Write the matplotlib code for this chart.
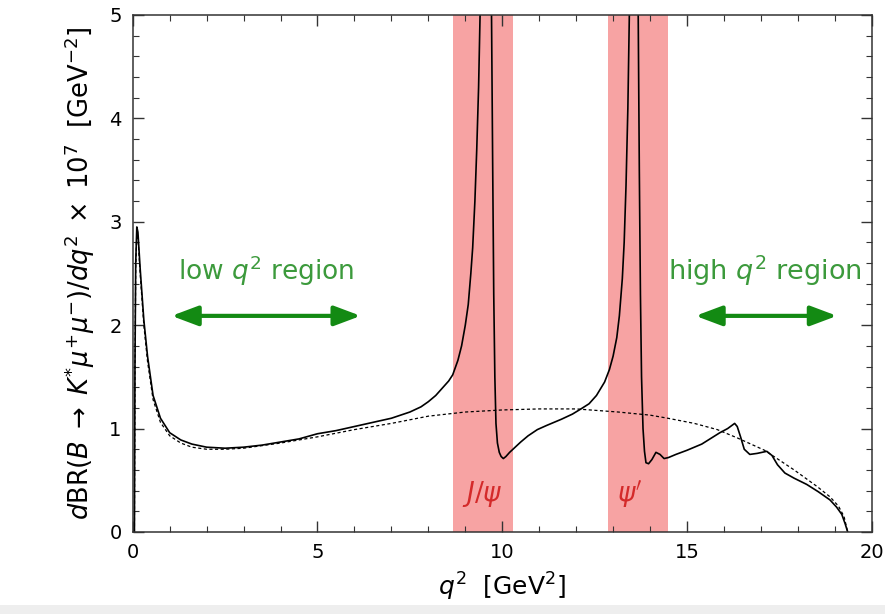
import matplotlib
matplotlib.use('Agg')
import matplotlib.pyplot as plt
import matplotlib.patches as mpatches
from matplotlib.ticker import MultipleLocator

plt.rcParams['font.family'] = 'DejaVu Sans'
plt.rcParams['mathtext.fontset'] = 'dejavusans'

# full SM prediction incl. charmonium resonances (q^2 in GeV^2, dBR/dq^2 x 1e7)
q2_full = [0.045, 0.06, 0.08, 0.11, 0.14, 0.2, 0.3, 0.4, 0.55, 0.75, 1.0, 1.3,
           1.6, 2.0, 2.5, 3.0, 3.5, 4.0, 4.5, 5.0, 5.5, 6.0, 6.5, 7.0, 7.5,
           7.8, 8.0, 8.2, 8.4, 8.55, 8.66, 8.8, 8.9, 9.0, 9.08, 9.15, 9.2,
           9.26, 9.31, 9.36, 9.40, 9.47, 9.66, 9.71, 9.74, 9.77, 9.80, 9.83,
           9.87, 9.92, 9.97, 10.03, 10.1, 10.2, 10.35, 10.5, 10.7, 10.95,
           11.2, 11.6, 11.9, 12.13, 12.35, 12.55, 12.77, 12.9, 13.0, 13.1,
           13.17, 13.25, 13.3, 13.35, 13.40, 13.44, 13.50, 13.64, 13.68,
           13.71, 13.74, 13.77, 13.81, 13.85, 13.89, 13.96, 14.05, 14.16,
           14.27, 14.38, 14.5, 14.7, 15.0, 15.4, 15.89, 16.1, 16.29, 16.36,
           16.45, 16.55, 16.7, 16.9, 17.16, 17.3, 17.45, 17.65, 17.9, 18.24,
           18.55, 18.87, 19.05, 19.19, 19.28, 19.35]
br_full = [0.0, 1.6, 2.6, 2.95, 2.9, 2.55, 2.05, 1.7, 1.32, 1.1, 0.96, 0.89,
           0.85, 0.82, 0.81, 0.82, 0.84, 0.87, 0.9, 0.95, 0.98, 1.02, 1.06,
           1.10, 1.16, 1.21, 1.26, 1.32, 1.40, 1.46, 1.52, 1.66, 1.80, 2.0,
           2.2, 2.5, 2.75, 3.2, 3.7, 4.3, 5.0, 8.0, 8.0, 5.0, 3.6, 2.3, 1.5,
           1.05, 0.86, 0.77, 0.73, 0.71, 0.73, 0.77, 0.82, 0.87, 0.93, 0.99,
           1.03, 1.09, 1.14, 1.19, 1.24, 1.32, 1.45, 1.57, 1.70, 1.88, 2.09,
           2.45, 2.8, 3.35, 4.1, 5.0, 8.0, 8.0, 5.0, 3.5, 2.3, 1.5, 1.0, 0.78,
           0.67, 0.66, 0.70, 0.77, 0.75, 0.71, 0.72, 0.75, 0.79, 0.85, 0.96,
           1.0, 1.05, 1.02, 0.92, 0.80, 0.75, 0.76, 0.78, 0.74, 0.65, 0.57,
           0.52, 0.46, 0.39, 0.31, 0.24, 0.17, 0.08, 0.0]

# short-distance (non-resonant) contribution only
q2_sd = [0.045, 0.06, 0.08, 0.11, 0.14, 0.2, 0.3, 0.4, 0.55, 0.75, 1.0, 1.3,
         1.6, 2.0, 2.5, 3.0, 4.0, 5.0, 6.0, 7.0, 8.0, 9.0, 10.0, 11.0, 12.0,
         13.14, 14.0, 14.48, 15.2, 15.82, 16.36, 17.1, 17.9, 18.52, 18.87,
         19.1, 19.25, 19.35]
br_sd = [0.0, 1.55, 2.55, 2.9, 2.85, 2.5, 2.0, 1.65, 1.28, 1.06, 0.93, 0.86,
         0.82, 0.80, 0.80, 0.81, 0.86, 0.92, 0.99, 1.05, 1.12, 1.16, 1.18,
         1.19, 1.19, 1.16, 1.13, 1.10, 1.05, 0.99, 0.91, 0.79, 0.60, 0.44,
         0.34, 0.25, 0.15, 0.0]

# vetoed charmonium windows
veto_bands = [(8.66, 10.28), (12.86, 14.48)]
veto_labels = [r'$J/\psi$', r"$\psi'$"]
veto_label_x = [9.45, 13.45]

fig = plt.figure(figsize=(8.85, 6.14), dpi=100)
fig.patches.append(mpatches.Rectangle((0, 0), 1, 0.015, transform=fig.transFigure,
                                      facecolor='#eeeeee', edgecolor='none', zorder=0))
ax = fig.add_axes([0.150, 0.1336, 0.835, 0.842])

for (lo, hi), lbl, lx in zip(veto_bands, veto_labels, veto_label_x):
    ax.axvspan(lo, hi, color='#f7a3a3', lw=0, zorder=0)
    ax.text(lx, 0.37, lbl, color='#d42a2a', fontsize=19, ha='center', va='center',
            zorder=3)

ax.plot(q2_sd, br_sd, color='black', lw=0.9, ls=(0, (2.5, 2)), zorder=2)
ax.plot(q2_full, br_full, color='black', lw=1.2, zorder=2)

# region markers
green_txt = '#3c9a3c'
green_arr = '#138a13'
arrow_style = '<|-|>,head_length=1.6,head_width=0.6'
ax.text(3.6, 2.53, r'low $q^2$ region', color=green_txt, fontsize=19,
        ha='center', va='center')
ax.annotate('', xy=(1.05, 2.09), xytext=(6.17, 2.09),
            arrowprops=dict(arrowstyle=arrow_style, color=green_arr, lw=3,
                            shrinkA=0, shrinkB=0))
ax.text(17.1, 2.53, r'high $q^2$ region', color=green_txt, fontsize=19.5,
        ha='center', va='center')
ax.annotate('', xy=(15.23, 2.09), xytext=(19.06, 2.09),
            arrowprops=dict(arrowstyle=arrow_style, color=green_arr, lw=3,
                            shrinkA=0, shrinkB=0))

ax.set_xlim(0, 20)
ax.set_ylim(0, 5)
ax.xaxis.set_major_locator(MultipleLocator(5))
ax.xaxis.set_minor_locator(MultipleLocator(1))
ax.yaxis.set_major_locator(MultipleLocator(1))
ax.yaxis.set_minor_locator(MultipleLocator(0.2))
ax.tick_params(which='both', direction='in', top=True, right=True, labelsize=14,
               color='#333333', pad=8)
ax.tick_params(which='major', length=8, width=1)
ax.tick_params(which='minor', length=4, width=0.8)
for s in ax.spines.values():
    s.set_linewidth(1.1)
    s.set_color('#333333')

ax.set_xlabel(r'$q^2$  [GeV$^2$]', fontsize=18, labelpad=6)
ax.set_ylabel(r'$d$BR$(B\;\to\;K^{*}\mu^{+}\mu^{-})/dq^{2}\;\times\;10^{7}$  [GeV$^{-2}$]',
              fontsize=18.5, labelpad=9)

fig.savefig('out.png', dpi=100)
